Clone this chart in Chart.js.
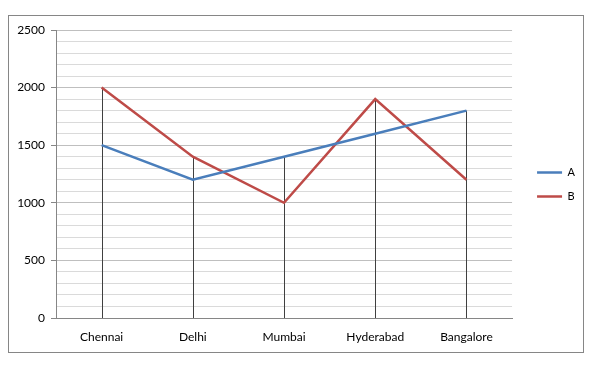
<!DOCTYPE html>
<html>
<head>
<meta charset="utf-8">
<script src="https://cdn.jsdelivr.net/npm/chart.js@4"></script>
<style>
  html, body { margin: 0; padding: 0; background: #fff; }
  #wrap { position: relative; width: 596px; height: 365px; }
</style>
</head>
<body>
<div id="wrap"><canvas id="chart" width="596" height="365"></canvas></div>
<script>
// Datos del gráfico
const cities = ['Chennai', 'Delhi', 'Mumbai', 'Hyderabad', 'Bangalore'];
const seriesA = [1500, 1200, 1400, 1600, 1800];
const seriesB = [2000, 1400, 1000, 1900, 1200];
const yMax = 2500;
const yStep = 100;
const labelStep = 500;

const blue = '#4a7ebb';
const red = '#be4b48';

// Marco exterior del gráfico
const framePlugin = {
    id: 'frame',
    beforeDraw: (chart) => {
        const ctx = chart.ctx;
        ctx.save();
        ctx.fillStyle = '#fff';
        ctx.fillRect(0, 0, chart.width, chart.height);
        ctx.strokeStyle = '#868686';
        ctx.lineWidth = 1;
        ctx.strokeRect(8.5, 15.5, 575, 337);
        ctx.restore();
    }
};

// Líneas verticales desde el valor máximo hasta cero
const dropLinesPlugin = {
    id: 'dropLines',
    beforeDatasetsDraw: (chart) => {
        const ctx = chart.ctx;
        const x = chart.scales.x;
        const y = chart.scales.y;
        ctx.save();
        ctx.strokeStyle = '#404040';
        ctx.lineWidth = 1;
        cities.forEach((c, i) => {
            const top = Math.max(...chart.data.datasets.map(d => d.data[i]));
            const px = Math.round(x.getPixelForValue(i)) + 0.5;
            ctx.beginPath();
            ctx.moveTo(px, y.getPixelForValue(top));
            ctx.lineTo(px, y.getPixelForValue(0));
            ctx.stroke();
        });
        ctx.restore();
    }
};

new Chart(document.getElementById('chart'), {
    type: 'line',
    data: {
        labels: cities,
        datasets: [
            { label: 'A', data: seriesA, borderColor: blue, backgroundColor: blue, borderWidth: 2.5, pointRadius: 0, tension: 0 },
            { label: 'B', data: seriesB, borderColor: red, backgroundColor: red, borderWidth: 2.5, pointRadius: 0, tension: 0 }
        ]
    },
    options: {
        responsive: false,
        animation: false,
        layout: { padding: { top: 4, right: 11, bottom: 0, left: 0 } },
        font: { family: 'Lato' },
        plugins: {
            tooltip: { enabled: false },
            legend: {
                position: 'right',
                labels: {
                    usePointStyle: true,
                    pointStyle: 'line',
                    pointStyleWidth: 25,
                    padding: 13,
                    color: '#000',
                    font: { family: 'Lato', size: 11 }
                }
            }
        },
        scales: {
            x: {
                offset: true,
                grid: { display: false },
                border: { color: '#868686' },
                ticks: { color: '#000', padding: 4, maxRotation: 0, font: { family: 'Lato', size: 12 } },
                afterFit: (s) => { s.height = 47; }
            },
            y: {
                min: 0,
                max: yMax,
                border: { color: '#868686' },
                grid: {
                    color: (c) => c.tick.value % labelStep === 0 ? '#bfbfbf' : '#dadada',
                    tickColor: (c) => c.tick.value % labelStep === 0 ? '#868686' : 'rgba(0,0,0,0)',
                    tickLength: 5
                },
                ticks: {
                    stepSize: yStep,
                    padding: 6,
                    color: '#000',
                    autoSkip: false,
                    font: { family: 'Lato', size: 12 },
                    callback: (v) => v % labelStep === 0 ? v : ''
                },
                afterFit: (s) => { s.width = 56; }
            },
            gapTop: {
                axis: 'x',
                position: 'top',
                display: true,
                grid: { display: false },
                border: { display: false },
                ticks: { display: false },
                afterFit: (s) => { s.height = 26; }
            },
            gap: {
                axis: 'y',
                position: 'right',
                display: true,
                grid: { display: false },
                border: { display: false },
                ticks: { display: false },
                afterFit: (s) => { s.width = 12; }
            }
        }
    },
    plugins: [framePlugin, dropLinesPlugin]
});
</script>
</body>
</html>
